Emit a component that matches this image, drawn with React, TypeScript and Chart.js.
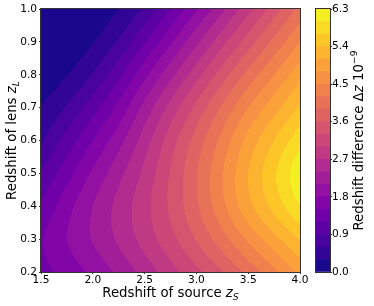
import React, { useEffect, useRef } from "react";
import { Chart, registerables } from "chart.js";

Chart.register(...registerables);

const W = 374;
const H = 306;

// ---- data (Δz in units of 1e-9) ----
const zSource = [1.5, 1.75, 2.0, 2.25, 2.5, 2.75, 3.0, 3.25, 3.5, 3.75, 4.0];
const zLens = [0.2, 0.3, 0.4, 0.5, 0.6, 0.7, 0.8, 0.9, 1.0];

const dzAtLens020 = [1.40, 1.62, 1.88, 2.17, 2.52, 2.88, 3.22, 3.58, 4.00, 4.42, 4.88];
const dzAtLens030 = [1.47, 1.80, 2.12, 2.45, 2.82, 3.20, 3.62, 4.07, 4.55, 5.00, 5.42];
const dzAtLens040 = [1.25, 1.68, 2.10, 2.50, 2.90, 3.35, 3.85, 4.42, 5.00, 5.50, 6.00];
const dzAtLens050 = [0.92, 1.38, 1.85, 2.30, 2.78, 3.32, 3.88, 4.48, 5.10, 5.65, 6.22];
const dzAtLens060 = [0.56, 1.02, 1.50, 1.98, 2.55, 3.15, 3.72, 4.30, 4.90, 5.40, 5.90];
const dzAtLens070 = [0.30, 0.63, 1.08, 1.58, 2.20, 2.80, 3.38, 3.95, 4.50, 4.98, 5.45];
const dzAtLens080 = [0.09, 0.29, 0.62, 1.12, 1.72, 2.30, 2.88, 3.45, 4.00, 4.50, 5.00];
const dzAtLens090 = [0.02, 0.09, 0.28, 0.64, 1.18, 1.75, 2.33, 2.90, 3.45, 3.98, 4.50];
const dzAtLens100 = [0.00, 0.02, 0.09, 0.29, 0.66, 1.20, 1.77, 2.33, 2.90, 3.45, 4.00];

const contourLevels = [0, 0.3, 0.6, 0.9, 1.2, 1.5, 1.8, 2.1, 2.4, 2.7, 3.0, 3.3, 3.6, 3.9, 4.2, 4.5, 4.8, 5.1, 5.4, 5.7, 6.0, 6.3];
const xTickValues = [1.5, 2.0, 2.5, 3.0, 3.5, 4.0];
const yTickValues = [0.2, 0.3, 0.4, 0.5, 0.6, 0.7, 0.8, 0.9, 1.0];
const colorbarTicks = [0.0, 0.9, 1.8, 2.7, 3.6, 4.5, 5.4, 6.3];

const field = [dzAtLens020, dzAtLens030, dzAtLens040, dzAtLens050, dzAtLens060, dzAtLens070, dzAtLens080, dzAtLens090, dzAtLens100];

// ---- plasma colormap ----
const plasmaStops: [number, string][] = [
  [0.0, "#0d0887"], [0.1, "#41049d"], [0.2, "#6a00a8"], [0.25, "#7e03a8"], [0.3, "#8f0da4"],
  [0.4, "#b12a90"], [0.5, "#cc4778"], [0.6, "#e16462"], [0.7, "#f2844b"], [0.75, "#f89540"],
  [0.8, "#fca636"], [0.9, "#fcce25"], [1.0, "#f0f921"],
];
function hexRgb(h: string) {
  return [parseInt(h.slice(1, 3), 16), parseInt(h.slice(3, 5), 16), parseInt(h.slice(5, 7), 16)];
}
function plasma(t: number) {
  t = Math.max(0, Math.min(1, t));
  for (let i = 0; i < plasmaStops.length - 1; i++) {
    const [t0, c0] = plasmaStops[i];
    const [t1, c1] = plasmaStops[i + 1];
    if (t <= t1) {
      const f = (t - t0) / (t1 - t0);
      const a = hexRgb(c0), b = hexRgb(c1);
      return [0, 1, 2].map((k) => Math.round(a[k] + (b[k] - a[k]) * f));
    }
  }
  return hexRgb(plasmaStops[plasmaStops.length - 1][1]);
}
const nBands = contourLevels.length - 1;
const bandRgb = Array.from({ length: nBands }, (_, k) => plasma((k + 0.5) / nBands));
const bandCss = bandRgb.map((c) => `rgb(${c[0]},${c[1]},${c[2]})`);

// ---- smooth sampling of the grid (Catmull-Rom) ----
function g(r: number, c: number): number {
  const nr = field.length, nc = field[0].length;
  if (r < 0) return 2 * g(0, c) - g(1, c);
  if (r > nr - 1) return 2 * g(nr - 1, c) - g(nr - 2, c);
  if (c < 0) return 2 * g(r, 0) - g(r, 1);
  if (c > nc - 1) return 2 * g(r, nc - 1) - g(r, nc - 2);
  return field[r][c];
}
function cr(p0: number, p1: number, p2: number, p3: number, t: number) {
  return 0.5 * (2 * p1 + (-p0 + p2) * t + (2 * p0 - 5 * p1 + 4 * p2 - p3) * t * t + (-p0 + 3 * p1 - 3 * p2 + p3) * t * t * t);
}
function sample(zs: number, zl: number) {
  const u = (zs - zSource[0]) / (zSource[1] - zSource[0]);
  const v = (zl - zLens[0]) / (zLens[1] - zLens[0]);
  const c0 = Math.max(0, Math.min(zSource.length - 2, Math.floor(u)));
  const r0 = Math.max(0, Math.min(zLens.length - 2, Math.floor(v)));
  const tu = u - c0, tv = v - r0;
  const rows = [-1, 0, 1, 2].map((dr) =>
    cr(g(r0 + dr, c0 - 1), g(r0 + dr, c0), g(r0 + dr, c0 + 1), g(r0 + dr, c0 + 2), tu)
  );
  return cr(rows[0], rows[1], rows[2], rows[3], tv);
}

const FONT = "DejaVu Sans";

type Part = { t: string; italic?: boolean; scale?: number; shift?: number };
function drawParts(ctx: CanvasRenderingContext2D, parts: Part[], size: number, cx: number, cy: number, rot: number) {
  ctx.save();
  ctx.translate(cx, cy);
  ctx.rotate(rot);
  ctx.fillStyle = "#000";
  ctx.textBaseline = "alphabetic";
  ctx.textAlign = "left";
  const fontOf = (p: Part) => `${p.italic ? "italic " : ""}${size * (p.scale || 1)}px "${FONT}"`;
  let total = 0;
  const widths = parts.map((p) => {
    ctx.font = fontOf(p);
    const w = ctx.measureText(p.t).width;
    total += w;
    return w;
  });
  let x = -total / 2;
  parts.forEach((p, i) => {
    ctx.font = fontOf(p);
    ctx.fillText(p.t, x, p.shift || 0);
    x += widths[i];
  });
  ctx.restore();
}

const contourPlugin = {
  id: "contourFill",
  beforeDatasetsDraw(chart: any) {
    const { ctx, chartArea: a, scales } = chart;
    const x0 = Math.round(a.left), y0 = Math.round(a.top);
    const w = Math.round(a.right) - x0, h = Math.round(a.bottom) - y0;
    const off = document.createElement("canvas");
    off.width = w;
    off.height = h;
    const octx = off.getContext("2d")!;
    const img = octx.createImageData(w, h);
    const step = contourLevels[1] - contourLevels[0];
    for (let j = 0; j < h; j++) {
      const zl = scales.y.getValueForPixel(y0 + j + 0.5);
      for (let i = 0; i < w; i++) {
        const zs = scales.x.getValueForPixel(x0 + i + 0.5);
        const val = sample(zs, zl);
        let k = Math.floor((val - contourLevels[0]) / step);
        k = Math.max(0, Math.min(nBands - 1, k));
        const c = bandRgb[k];
        const idx = (j * w + i) * 4;
        img.data[idx] = c[0];
        img.data[idx + 1] = c[1];
        img.data[idx + 2] = c[2];
        img.data[idx + 3] = 255;
      }
    }
    octx.putImageData(img, 0, 0);
    ctx.drawImage(off, x0, y0);
  },
  afterDraw(chart: any) {
    const { ctx, chartArea: a } = chart;
    ctx.save();
    ctx.strokeStyle = "#333";
    ctx.lineWidth = 1;
    ctx.strokeRect(Math.round(a.left) - 0.5, Math.round(a.top) - 0.5, Math.round(a.right - a.left) + 1, Math.round(a.bottom - a.top) + 1);
    ctx.restore();
    const sz = 13.3;
    drawParts(ctx, [{ t: "Redshift of source " }, { t: "z", italic: true }, { t: "S", italic: true, scale: 0.7, shift: 3 }], sz, (a.left + a.right) / 2, 297, 0);
    drawParts(ctx, [{ t: "Redshift of lens " }, { t: "z", italic: true }, { t: "L", italic: true, scale: 0.7, shift: 3 }], sz, 15.5, (a.top + a.bottom) / 2, -Math.PI / 2);
  },
};

const colorbarPlugin = {
  id: "colorbarFrame",
  afterDraw(chart: any) {
    const { ctx, chartArea: a } = chart;
    ctx.save();
    ctx.strokeStyle = "#333";
    ctx.lineWidth = 1;
    ctx.strokeRect(Math.round(a.left) - 0.5, Math.round(a.top) - 0.5, Math.round(a.right - a.left) + 1, Math.round(a.bottom - a.top) + 1);
    ctx.restore();
    drawParts(
      ctx,
      [{ t: "Redshift difference Δ" }, { t: "z", italic: true }, { t: " 10" }, { t: "−9", scale: 0.7, shift: -5.5 }],
      13.3,
      362.5,
      (a.top + a.bottom) / 2,
      -Math.PI / 2
    );
  },
};

export default function App() {
  const mainRef = useRef<HTMLCanvasElement>(null);
  const cbRef = useRef<HTMLCanvasElement>(null);

  useEffect(() => {
    document.body.style.margin = "0";
    const tickFont = { family: FONT, size: 10.6 };
    const gridPoints: { x: number; y: number }[] = [];
    zLens.forEach((zl) => zSource.forEach((zs) => gridPoints.push({ x: zs, y: zl })));

    const main = new Chart(mainRef.current!, {
      type: "scatter",
      data: { datasets: [{ data: gridPoints, pointRadius: 0, pointHoverRadius: 0, showLine: false }] },
      options: {
        animation: false,
        responsive: false,
        devicePixelRatio: 1,
        layout: { padding: { left: 0, top: 9, right: 74, bottom: 0 } },
        plugins: { legend: { display: false }, tooltip: { enabled: false } },
        scales: {
          x: {
            type: "linear",
            min: zSource[0],
            max: zSource[zSource.length - 1],
            afterBuildTicks: (s: any) => { s.ticks = xTickValues.map((v) => ({ value: v })); },
            afterFit: (s: any) => { s.height = 34; },
            ticks: { color: "#000", font: tickFont, padding: 0, maxRotation: 0, autoSkip: false, callback: (v: any) => Number(v).toFixed(1) },
            grid: { drawOnChartArea: false, drawTicks: true, tickLength: 2, color: "#333" },
            border: { display: false },
          },
          y: {
            type: "linear",
            min: zLens[0],
            max: zLens[zLens.length - 1],
            afterBuildTicks: (s: any) => { s.ticks = yTickValues.map((v) => ({ value: v })); },
            afterFit: (s: any) => { s.width = 41; },
            ticks: { color: "#000", font: tickFont, padding: 2, autoSkip: false, callback: (v: any) => Number(v).toFixed(1) },
            grid: { drawOnChartArea: false, drawTicks: true, tickLength: 2, color: "#333" },
            border: { display: false },
          },
        },
      },
      plugins: [contourPlugin],
    });

    const cb = new Chart(cbRef.current!, {
      type: "bar",
      data: {
        labels: [""],
        datasets: bandCss.map((c, k) => ({
          data: [[contourLevels[k], contourLevels[k + 1]]],
          backgroundColor: c,
          borderWidth: 0,
          barPercentage: 1,
          categoryPercentage: 1,
        })) as any,
      },
      options: {
        animation: false,
        responsive: false,
        devicePixelRatio: 1,
        layout: { padding: { left: 316, top: 9, right: 0, bottom: 34 } },
        plugins: { legend: { display: false }, tooltip: { enabled: false } },
        scales: {
          x: { display: false, stacked: true },
          y: {
            position: "right",
            min: contourLevels[0],
            max: contourLevels[contourLevels.length - 1],
            afterBuildTicks: (s: any) => { s.ticks = colorbarTicks.map((v) => ({ value: v })); },
            afterFit: (s: any) => { s.width = 44; },
            ticks: { color: "#000", font: tickFont, padding: 0, autoSkip: false, callback: (v: any) => Number(v).toFixed(1) },
            grid: { drawOnChartArea: false, drawTicks: true, tickLength: 2, color: "#333" },
            border: { display: false },
          },
        },
      },
      plugins: [colorbarPlugin],
    });

    return () => {
      main.destroy();
      cb.destroy();
    };
  }, []);

  const style: React.CSSProperties = { position: "absolute", left: 0, top: 0, width: W, height: H };
  return (
    <div style={{ position: "relative", width: W, height: H }}>
      <canvas ref={mainRef} width={W} height={H} style={style} />
      <canvas ref={cbRef} width={W} height={H} style={style} />
    </div>
  );
}
